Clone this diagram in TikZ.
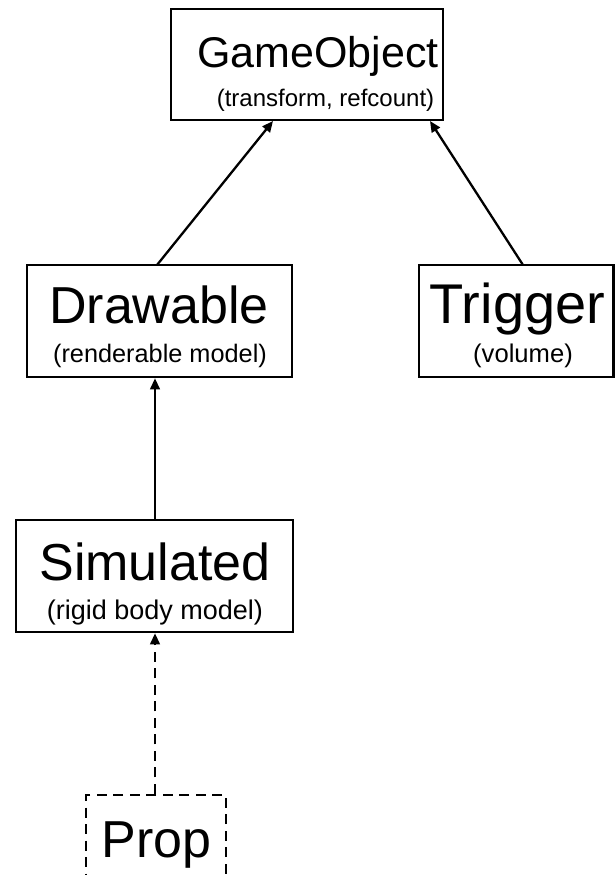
\documentclass[tikz,border=0pt]{standalone}
\usepackage{fontspec}
\setmainfont{Liberation Sans}
\usetikzlibrary{arrows.meta}
\newcommand{\fsz}[1]{\fontsize{#1}{#1}\selectfont}
\begin{document}
\begin{tikzpicture}[x=1pt,y=-1pt,
  classbox/.style={draw=black, line width=2.5pt, fill=white, inner sep=0pt},
  label text/.style={anchor=base, inner sep=0pt},
  inherit/.style={draw=black, line width=2.3pt, -{Triangle[length=11pt,width=9.5pt]}},
  planned/.style={inherit, dash pattern=on 10pt off 6.5pt}
]
\useasboundingbox (0,0) rectangle (615,875);
\clip (0,0) rectangle (615,875);

% class boxes
\node[classbox, minimum width=272pt, minimum height=111pt] (go)  at (307,64.5) {};
\node[classbox, minimum width=265pt, minimum height=112pt] (dr)  at (159.5,321) {};
\node[classbox, minimum width=194.5pt, minimum height=112pt] (tr)  at (516.25,321) {};
\node[classbox, minimum width=277pt, minimum height=112pt] (sim) at (154.5,576) {};
\node[classbox, dash pattern=on 10pt off 6.5pt, minimum width=140pt, minimum height=120pt] (prop) at (156,855) {};

% class names and their members
\node[label text, font=\fsz{43}] (goT)  at (318,67)  {GameObject};
\node[label text, font=\fsz{24}] (goS)  at (325.5,106) {(transform, refcount)};
\node[label text, font=\fsz{52}] (drT)  at (159,323) {Drawable};
\node[label text, font=\fsz{25.3}] (drS)  at (160,362) {(renderable model)};
\node[label text, font=\fsz{56}] (trT)  at (517.5,323) {Trigger};
\node[label text, font=\fsz{25.6}] (trS)  at (523,362) {(volume)};
\node[label text, font=\fsz{52}] (simT) at (155,580) {Simulated};
\node[label text, font=\fsz{27}] (simS) at (155,619) {(rigid body model)};
\node[label text, font=\fsz{52}] (propT) at (156.5,857) {Prop};

% inheritance arrows
\coordinate (drTop)  at (157,265);
\coordinate (goIn1)  at (273,121);
\coordinate (trTop)  at (523,265);
\coordinate (goIn2)  at (430,121);
\draw[inherit] (drTop) -- (goIn1);
\draw[inherit] (trTop) -- (goIn2);
\draw[inherit] (sim.north -| 155,0) -- (dr.south -| 155,0);
\draw[planned] (prop.north -| 155,0) -- (sim.south -| 155,0);
\end{tikzpicture}
\end{document}
